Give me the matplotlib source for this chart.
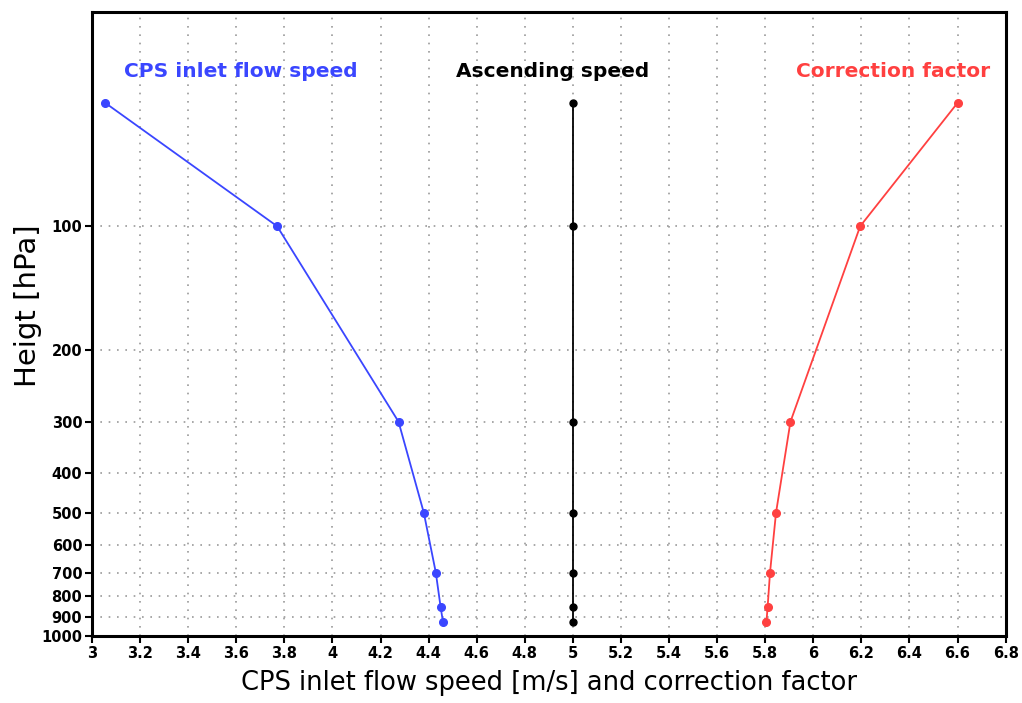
import matplotlib
matplotlib.use("Agg")
import matplotlib.pyplot as plt
from matplotlib.ticker import FixedLocator, NullLocator

# Pressure levels (hPa)
levels = [50, 100, 300, 500, 700, 850, 925]
# CPS inlet flow speed (m/s)
inlet_speed = [3.055, 3.77, 4.275, 4.38, 4.43, 4.45, 4.46]
# Balloon ascending speed (m/s)
ascend_speed = [5.0, 5.0, 5.0, 5.0, 5.0, 5.0, 5.0]
# Correction factor
correction = [6.60, 6.195, 5.905, 5.845, 5.82, 5.81, 5.805]

ytick_vals = [100, 200, 300, 400, 500, 600, 700, 800, 900, 1000]
ytick_labels = [str(v) for v in ytick_vals]
xtick_vals = [3 + 0.2 * i for i in range(20)]
xtick_labels = [("%g" % round(v, 1)) for v in xtick_vals]

blue = "#3a46ff"
red = "#ff4040"

fig = plt.figure(figsize=(10.22, 7.03), dpi=100)
ax = fig.add_axes([0.090, 0.0953, 0.894, 0.8877])

ax.set_yscale("log")
ax.set_ylim(1000, 30)
ax.set_xlim(3, 6.8)

ax.plot(inlet_speed, levels, color=blue, lw=1.3, marker="o", ms=5.5, zorder=3)
ax.plot(ascend_speed, levels, color="black", lw=1.3, marker="o", ms=5, zorder=3)
ax.plot(correction, levels, color=red, lw=1.3, marker="o", ms=5.5, zorder=3)

ax.yaxis.set_major_locator(FixedLocator(ytick_vals))
ax.yaxis.set_minor_locator(NullLocator())
ax.set_yticks(ytick_vals)
ax.set_yticklabels(ytick_labels)
ax.set_xticks(xtick_vals)
ax.set_xticklabels(xtick_labels)

ax.tick_params(axis="both", direction="out", length=5, width=1.5,
               labelsize=10.5, pad=2)
for lab in ax.get_xticklabels() + ax.get_yticklabels():
    lab.set_fontweight("bold")

ax.grid(True, which="major", color="#9a9a9a", linestyle=(0, (1, 4)), lw=1.2)
for s in ax.spines.values():
    s.set_linewidth(2.2)
    s.set_linestyle((0, (6, 1)))

ax.text(3.617, 42, "CPS inlet flow speed", color=blue, fontsize=14.5,
        fontweight="bold", ha="center", va="center")
ax.text(4.917, 42, "Ascending speed", color="black", fontsize=14.5,
        fontweight="bold", ha="center", va="center")
ax.text(6.333, 42, "Correction factor", color=red, fontsize=14.5,
        fontweight="bold", ha="center", va="center")

ax.set_xlabel("CPS inlet flow speed [m/s] and correction factor",
              fontsize=18.5, labelpad=7)
ax.set_ylabel("Heigt [hPa]", fontsize=21)
ax.yaxis.set_label_coords(-0.055, 0.53)

fig.savefig("out.png", dpi=100)
